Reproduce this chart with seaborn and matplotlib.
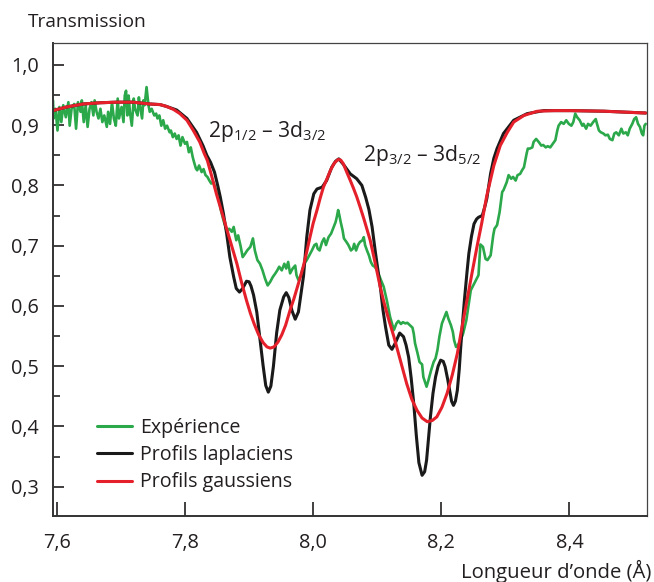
import numpy as np
import pandas as pd
import matplotlib
matplotlib.use("Agg")
import matplotlib.pyplot as plt
from matplotlib.ticker import MultipleLocator, FuncFormatter
import seaborn as sns

# ---------------- data ----------------
exp_x = [7.594, 7.595, 7.598, 7.601, 7.604, 7.607, 7.610, 7.614, 7.618, 7.620, 7.623, 7.627, 7.630,
         7.633, 7.637, 7.639, 7.642, 7.645, 7.648, 7.651, 7.654, 7.657, 7.659, 7.662, 7.665, 7.668,
         7.671, 7.674, 7.678, 7.680, 7.683, 7.686, 7.689, 7.692, 7.695, 7.697, 7.701, 7.704, 7.706,
         7.708, 7.710, 7.712, 7.714, 7.717, 7.720, 7.722, 7.726, 7.728, 7.730, 7.733, 7.735, 7.737,
         7.740, 7.743, 7.745, 7.748, 7.752, 7.755, 7.757, 7.760, 7.763, 7.766, 7.769, 7.772, 7.776,
         7.778, 7.781, 7.784, 7.787, 7.790, 7.793, 7.796, 7.800, 7.803, 7.806, 7.809, 7.812, 7.814,
         7.817, 7.819, 7.822, 7.826, 7.829, 7.832, 7.835, 7.838, 7.841, 7.844, 7.847,
         7.852, 7.856, 7.860, 7.865, 7.869, 7.873, 7.876, 7.880, 7.883, 7.887, 7.890, 7.894, 7.897,
         7.902, 7.906, 7.909, 7.913, 7.917, 7.921, 7.925, 7.929, 7.933, 7.937, 7.941, 7.944, 7.947,
         7.951, 7.955, 7.958, 7.961, 7.964, 7.968, 7.972, 7.974, 7.977, 7.980, 7.983, 7.986, 7.990,
         7.994, 7.998, 8.002, 8.005, 8.007, 8.010, 8.014, 8.017, 8.020, 8.024, 8.028, 8.032, 8.035,
         8.037, 8.039, 8.041, 8.043, 8.046, 8.048, 8.052, 8.055, 8.059, 8.062, 8.064, 8.067, 8.070,
         8.073, 8.077, 8.079, 8.081, 8.084, 8.087, 8.090, 8.093, 8.096, 8.100, 8.105, 8.110, 8.115,
         8.120, 8.126, 8.130, 8.133, 8.137, 8.140, 8.144, 8.147, 8.152, 8.155, 8.157, 8.159, 8.163,
         8.166, 8.170, 8.172, 8.177, 8.180, 8.184, 8.188, 8.191, 8.194, 8.197, 8.201, 8.205, 8.208,
         8.211, 8.215, 8.218, 8.220, 8.223, 8.226, 8.230, 8.234, 8.239, 8.243, 8.246, 8.258, 8.261,
         8.265, 8.269, 8.272, 8.277, 8.281, 8.283, 8.287, 8.291, 8.295, 8.297, 8.302, 8.305, 8.309,
         8.312, 8.316, 8.319, 8.323, 8.326, 8.329, 8.333, 8.335, 8.338, 8.342, 8.344, 8.348, 8.352,
         8.356, 8.359, 8.363, 8.366, 8.370, 8.374, 8.378, 8.381, 8.383, 8.387, 8.391, 8.395, 8.399,
         8.403, 8.406, 8.409, 8.412, 8.416, 8.420, 8.422, 8.426, 8.429, 8.433, 8.437, 8.441, 8.443,
         8.446, 8.449, 8.453, 8.456, 8.460, 8.463, 8.467, 8.470, 8.473, 8.477, 8.481, 8.484, 8.488,
         8.491, 8.494, 8.498, 8.501, 8.504, 8.507, 8.510, 8.513, 8.515, 8.517, 8.519]
exp_y = [0.941, 0.911, 0.927, 0.891, 0.930, 0.905, 0.933, 0.913, 0.938, 0.899, 0.927, 0.935, 0.894,
         0.938, 0.922, 0.941, 0.905, 0.933, 0.897, 0.927, 0.938, 0.916, 0.941, 0.922, 0.911, 0.927,
         0.905, 0.916, 0.897, 0.922, 0.902, 0.938, 0.911, 0.899, 0.944, 0.911, 0.930, 0.905, 0.949,
         0.957, 0.916, 0.949, 0.922, 0.899, 0.944, 0.927, 0.916, 0.946, 0.930, 0.911, 0.941, 0.933,
         0.963, 0.933, 0.922, 0.927, 0.916, 0.919, 0.911, 0.916, 0.899, 0.908, 0.894, 0.899, 0.888,
         0.891, 0.880, 0.886, 0.877, 0.883, 0.866, 0.880, 0.869, 0.872, 0.855, 0.863, 0.847, 0.839,
         0.828, 0.825, 0.833, 0.822, 0.827, 0.817, 0.814, 0.808, 0.803, 0.806, 0.797,
         0.781, 0.759, 0.742, 0.725, 0.728, 0.723, 0.731, 0.709, 0.717, 0.698, 0.681, 0.687, 0.692,
         0.698, 0.712, 0.692, 0.676, 0.670, 0.659, 0.645, 0.634, 0.640, 0.648, 0.654, 0.659, 0.665,
         0.659, 0.670, 0.662, 0.673, 0.654, 0.662, 0.667, 0.651, 0.643, 0.648, 0.659, 0.670, 0.676,
         0.684, 0.692, 0.701, 0.703, 0.695, 0.692, 0.706, 0.712, 0.701, 0.714, 0.720, 0.731, 0.739,
         0.748, 0.759, 0.750, 0.739, 0.725, 0.712, 0.706, 0.701, 0.692, 0.695, 0.703, 0.692, 0.701,
         0.706, 0.709, 0.714, 0.701, 0.692, 0.684, 0.673, 0.667, 0.665, 0.659, 0.645, 0.632, 0.609,
         0.582, 0.560, 0.571, 0.575, 0.570, 0.573, 0.571, 0.572, 0.567, 0.564, 0.554, 0.538, 0.521,
         0.507, 0.503, 0.482, 0.466, 0.477, 0.493, 0.507, 0.513, 0.527, 0.549, 0.571, 0.582, 0.590,
         0.579, 0.568, 0.557, 0.543, 0.532, 0.535, 0.543, 0.554, 0.576, 0.604, 0.626, 0.651, 0.702,
         0.698, 0.678, 0.676, 0.684, 0.717, 0.728, 0.734, 0.756, 0.789, 0.792, 0.805, 0.817, 0.811,
         0.814, 0.808, 0.817, 0.819, 0.825, 0.830, 0.852, 0.861, 0.861, 0.863, 0.872, 0.877, 0.872,
         0.866, 0.867, 0.863, 0.865, 0.863, 0.869, 0.875, 0.891, 0.899, 0.905, 0.902, 0.908, 0.902,
         0.899, 0.905, 0.919, 0.913, 0.908, 0.899, 0.902, 0.894, 0.902, 0.899, 0.905, 0.910, 0.902,
         0.891, 0.888, 0.886, 0.883, 0.884, 0.877, 0.875, 0.886, 0.888, 0.883, 0.894, 0.886, 0.888,
         0.883, 0.894, 0.902, 0.910, 0.913, 0.902, 0.897, 0.886, 0.883, 0.899, 0.902]

lap_x = [7.594, 7.615, 7.641, 7.667, 7.693, 7.719, 7.745, 7.761, 7.771, 7.787, 7.803, 7.818, 7.828,
         7.834, 7.840, 7.846, 7.851, 7.855, 7.860, 7.865, 7.870, 7.876, 7.880, 7.885, 7.890, 7.896,
         7.900, 7.903, 7.907, 7.912, 7.917, 7.922, 7.926, 7.930, 7.934, 7.938, 7.943, 7.948, 7.954,
         7.958, 7.962, 7.967, 7.972, 7.977, 7.981, 7.985, 7.990, 7.995, 8.001, 8.006, 8.014, 8.021,
         8.029, 8.035, 8.040, 8.047, 8.058, 8.068, 8.076, 8.082, 8.087, 8.092, 8.097, 8.101, 8.105,
         8.109, 8.113, 8.118, 8.123, 8.128, 8.135, 8.141, 8.145, 8.149, 8.153, 8.157, 8.161, 8.165,
         8.170, 8.174, 8.177, 8.180, 8.183, 8.187, 8.191, 8.195, 8.199, 8.203, 8.206, 8.210, 8.213,
         8.216, 8.219, 8.222, 8.225, 8.228, 8.230, 8.233, 8.236, 8.240, 8.243, 8.247, 8.251, 8.255,
         8.258, 8.264, 8.268, 8.271, 8.277, 8.282, 8.287, 8.297, 8.313, 8.334, 8.360, 8.402, 8.454,
         8.519]
lap_y = [0.924, 0.930, 0.935, 0.937, 0.938, 0.938, 0.935, 0.934, 0.931, 0.925, 0.911, 0.888, 0.866,
         0.850, 0.838, 0.822, 0.800, 0.781, 0.753, 0.720, 0.681, 0.648, 0.629, 0.623, 0.629, 0.641,
         0.640, 0.633, 0.618, 0.590, 0.545, 0.500, 0.468, 0.457, 0.467, 0.500, 0.555, 0.593, 0.615,
         0.622, 0.614, 0.592, 0.578, 0.590, 0.620, 0.650, 0.714, 0.759, 0.786, 0.794, 0.797, 0.808,
         0.830, 0.840, 0.844, 0.835, 0.819, 0.811, 0.800, 0.780, 0.760, 0.731, 0.690, 0.660, 0.630,
         0.593, 0.565, 0.535, 0.528, 0.538, 0.555, 0.549, 0.535, 0.515, 0.480, 0.438, 0.385, 0.340,
         0.319, 0.325, 0.344, 0.380, 0.416, 0.455, 0.482, 0.500, 0.510, 0.508, 0.499, 0.478, 0.460,
         0.442, 0.435, 0.442, 0.460, 0.495, 0.527, 0.570, 0.609, 0.655, 0.687, 0.715, 0.736, 0.744,
         0.747, 0.750, 0.765, 0.778, 0.820, 0.845, 0.861, 0.886, 0.908, 0.919, 0.924, 0.924, 0.923,
         0.920]

gau_x = [7.594, 7.615, 7.641, 7.667, 7.693, 7.719, 7.745, 7.761, 7.771, 7.782, 7.792, 7.803, 7.813,
         7.823, 7.830, 7.835, 7.842, 7.849, 7.857, 7.865, 7.873, 7.881, 7.888, 7.896, 7.902, 7.908,
         7.915, 7.922, 7.928, 7.933, 7.939, 7.945, 7.951, 7.957, 7.964, 7.970, 7.975, 7.980, 7.985,
         7.990, 7.995, 8.000, 8.006, 8.011, 8.016, 8.022, 8.027, 8.033, 8.039, 8.043, 8.047, 8.052,
         8.058, 8.063, 8.068, 8.073, 8.079, 8.084, 8.089, 8.095, 8.100, 8.105, 8.110, 8.118, 8.126,
         8.136, 8.146, 8.154, 8.162, 8.170, 8.178, 8.186, 8.193, 8.201, 8.209, 8.217, 8.225, 8.232,
         8.240, 8.248, 8.256, 8.263, 8.271, 8.282, 8.292, 8.303, 8.313, 8.329, 8.350, 8.376, 8.402,
         8.454, 8.519]
gau_y = [0.924, 0.930, 0.935, 0.937, 0.938, 0.938, 0.935, 0.934, 0.931, 0.926, 0.919, 0.908, 0.891,
         0.872, 0.853, 0.841, 0.814, 0.786, 0.757, 0.728, 0.699, 0.670, 0.640, 0.609, 0.588, 0.570,
         0.552, 0.539, 0.532, 0.530, 0.532, 0.540, 0.552, 0.568, 0.593, 0.612, 0.630, 0.648, 0.667,
         0.690, 0.714, 0.737, 0.759, 0.779, 0.797, 0.812, 0.825, 0.837, 0.843, 0.842, 0.836, 0.823,
         0.808, 0.795, 0.781, 0.765, 0.745, 0.727, 0.709, 0.680, 0.655, 0.630, 0.608, 0.577, 0.549,
         0.510, 0.471, 0.445, 0.427, 0.414, 0.408, 0.410, 0.416, 0.432, 0.455, 0.485, 0.521, 0.563,
         0.609, 0.655, 0.700, 0.737, 0.783, 0.833, 0.866, 0.888, 0.905, 0.916, 0.923, 0.924, 0.924,
         0.923, 0.920]

series_labels = ["Expérience", "Profils laplaciens", "Profils gaussiens"]
y_ticks = [0.3, 0.4, 0.5, 0.6, 0.7, 0.8, 0.9, 1.0]
x_ticks = [7.6, 7.8, 8.0, 8.2, 8.4]

# ---------------- style ----------------
sns.set_style("ticks")
FONT = "Open Sans"
plt.rcParams["font.family"] = [FONT, "DejaVu Sans"]
plt.rcParams["mathtext.fontset"] = "custom"
plt.rcParams["mathtext.rm"] = FONT
plt.rcParams["mathtext.it"] = FONT + ":italic"

GREEN = "#2aa84a"
BLACK = "#1a1a1a"
RED = "#e5202a"
TXT = "#231f20"

fig = plt.figure(figsize=(6.54, 5.82), dpi=100)
ax = fig.add_axes([53 / 654, 1 - 516 / 582, 594 / 654, 473.5 / 582])

df_exp = pd.DataFrame({"x": exp_x, "y": exp_y})
df_lap = pd.DataFrame({"x": lap_x, "y": lap_y})
df_gau = pd.DataFrame({"x": gau_x, "y": gau_y})

sns.lineplot(data=df_exp, x="x", y="y", ax=ax, color=GREEN, linewidth=1.9,
             label=series_labels[0], estimator=None, sort=False)
sns.lineplot(data=df_lap, x="x", y="y", ax=ax, color=BLACK, linewidth=2.2,
             label=series_labels[1], estimator=None, sort=False)
sns.lineplot(data=df_gau, x="x", y="y", ax=ax, color=RED, linewidth=2.2,
             label=series_labels[2], estimator=None, sort=False)

ax.set_xlim(7.594, 8.521)
ax.set_ylim(0.2515, 1.037)

ax.set_xticks(x_ticks)
ax.set_yticks(y_ticks)
ax.yaxis.set_minor_locator(MultipleLocator(0.05))
fmt = FuncFormatter(lambda v, p: f"{v:.1f}".replace(".", ","))
ax.xaxis.set_major_formatter(fmt)
ax.yaxis.set_major_formatter(fmt)

ax.tick_params(axis="x", which="major", direction="in", length=10, width=1.2,
               pad=12, labelsize=14.3, colors=TXT)
ax.tick_params(axis="y", which="major", direction="in", length=8, width=1.2,
               pad=10, labelsize=14.3, colors=TXT)
ax.tick_params(axis="y", which="minor", direction="in", length=5, width=1.2)

for side in ["left", "bottom"]:
    ax.spines[side].set_linewidth(1.4)
    ax.spines[side].set_color("#333333")
for side in ["top", "right"]:
    ax.spines[side].set_visible(True)
    ax.spines[side].set_linewidth(0.9)
    ax.spines[side].set_color("#444444")

ax.set_xlabel("")
ax.set_ylabel("")

fig.text(28 / 654, 1 - 22 / 582, "Transmission", fontsize=13.8, color=TXT,
         ha="left", va="center")
fig.text(651 / 654, 1 - 571 / 582, "Longueur d\u2019onde (Å)", fontsize=14.6,
         color=TXT, ha="right", va="center")

ax.text(7.836, 0.880, r"2p$_{\mathregular{1/2}}$ – 3d$_{\mathregular{3/2}}$",
        fontsize=15.2, color=TXT, ha="left", va="baseline")
ax.text(8.078, 0.841, r"2p$_{\mathregular{3/2}}$ – 3d$_{\mathregular{5/2}}$",
        fontsize=15.2, color=TXT, ha="left", va="baseline")

leg = ax.legend(loc="upper left", bbox_to_anchor=((97 - 53) / 594, (516 - 418) / 473.5),
                frameon=False, fontsize=14.1, handlelength=1.8, handletextpad=0.42,
                labelspacing=0.37, borderpad=0, borderaxespad=0)
for t in leg.get_texts():
    t.set_color(TXT)
for line in leg.get_lines():
    line.set_linewidth(2.2)

fig.savefig("out.png", dpi=100)
